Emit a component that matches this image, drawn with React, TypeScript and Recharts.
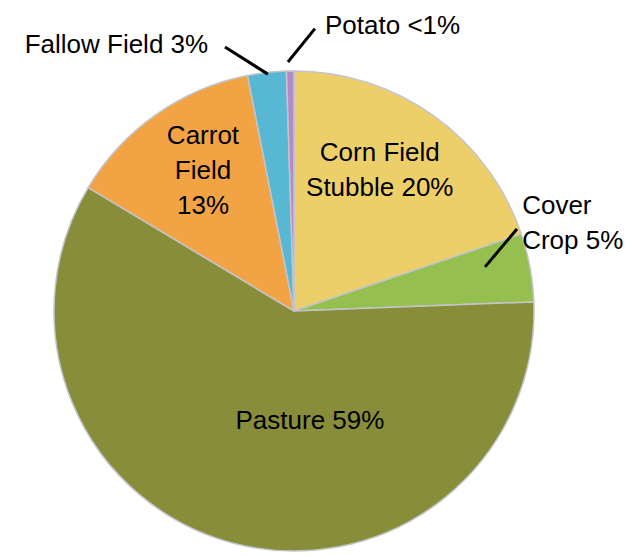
import React, { ReactElement } from "react";
import { PieChart, Pie, Cell } from "recharts";

// land use shares, clockwise from 12 o'clock
const categories: string[] = [
    "Corn Field Stubble",
    "Cover Crop",
    "Pasture",
    "Carrot Field",
    "Fallow Field",
    "Potato"
];
const shares: number[] = [19.8, 4.6, 59.2, 13.3, 2.6, 0.5];
const labelLines: string[][] = [
    ["Corn Field", "Stubble 20%"],
    ["Cover", "Crop 5%"],
    ["Pasture 59%"],
    ["Carrot", "Field", "13%"],
    ["Fallow Field 3%"],
    ["Potato <1%"]
];

const colors = ["#EDCF6A", "#95C050", "#878D38", "#F2A445", "#58B8D3", "#B48BC6"];

// label placement: radius as fraction of outer radius, angle clockwise from top
interface LabelPos {
    r: number;
    a: number;
    anchor: "start" | "middle" | "end";
    leader?: [number, number, number, number];
}
const labelPos: LabelPos[] = [
    { r: 0.69, a: 31.2, anchor: "middle" },
    { r: 1.02, a: 68.75, anchor: "start", leader: [0.817, 77.0, 0.99, 69.8] },
    { r: 0.46, a: 171.7, anchor: "middle" },
    { r: 0.7, a: 327.2, anchor: "middle" },
    { r: 1.17, a: 342.2, anchor: "end", leader: [0.993, 353.7, 1.137, 345.35] },
    { r: 1.199, a: 6.19, anchor: "start", leader: [1.038, 358.6, 1.18, 4.24] }
];

const FONT = "'Liberation Sans', Arial, sans-serif";
const FONT_SIZE = 26;
const LINE_H = 35;

const data = categories.map((name, i) => ({ name, value: shares[i] }));

const polar = (cx: number, cy: number, r: number, deg: number) => {
    const rad = (deg * Math.PI) / 180;
    return { x: cx + r * Math.sin(rad), y: cy - r * Math.cos(rad) };
};

const renderLabel = (props: any): ReactElement => {
    const { cx, cy, outerRadius, index } = props;
    const pos = labelPos[index];
    const lines = labelLines[index];
    const p = polar(cx, cy, outerRadius * pos.r, pos.a);
    const top = p.y - ((lines.length - 1) * LINE_H) / 2;
    let leader = null;
    if (pos.leader) {
        const a = polar(cx, cy, outerRadius * pos.leader[0], pos.leader[1]);
        const b = polar(cx, cy, outerRadius * pos.leader[2], pos.leader[3]);
        leader = <line x1={a.x} y1={a.y} x2={b.x} y2={b.y} stroke="#000" strokeWidth={3} />;
    }
    return (
        <g key={"lbl" + index}>
            {leader}
            <text
                x={p.x}
                y={top}
                textAnchor={pos.anchor}
                dominantBaseline="central"
                fontFamily={FONT}
                fontSize={FONT_SIZE}
                fill="#000"
            >
                {lines.map((t, j) => (
                    <tspan key={j} x={p.x} y={top + j * LINE_H}>
                        {t}
                    </tspan>
                ))}
            </text>
        </g>
    );
};

const App = (): ReactElement => {
    return (
        <div style={{ width: 624, height: 548 }}>
            <PieChart
                width={624}
                height={548}
                margin={{ top: 0, right: 0, bottom: 0, left: 0 }}
            >
                <Pie
                    data={data}
                    dataKey="value"
                    nameKey="name"
                    cx={286}
                    cy={303}
                    outerRadius={240}
                    startAngle={90}
                    endAngle={-270}
                    stroke="#C4C4CC"
                    strokeWidth={1.5}
                    label={renderLabel}
                    labelLine={false}
                    isAnimationActive={false}
                >
                    {data.map((d, i) => (
                        <Cell key={d.name} fill={colors[i]} />
                    ))}
                </Pie>
            </PieChart>
        </div>
    );
};

export default App;
